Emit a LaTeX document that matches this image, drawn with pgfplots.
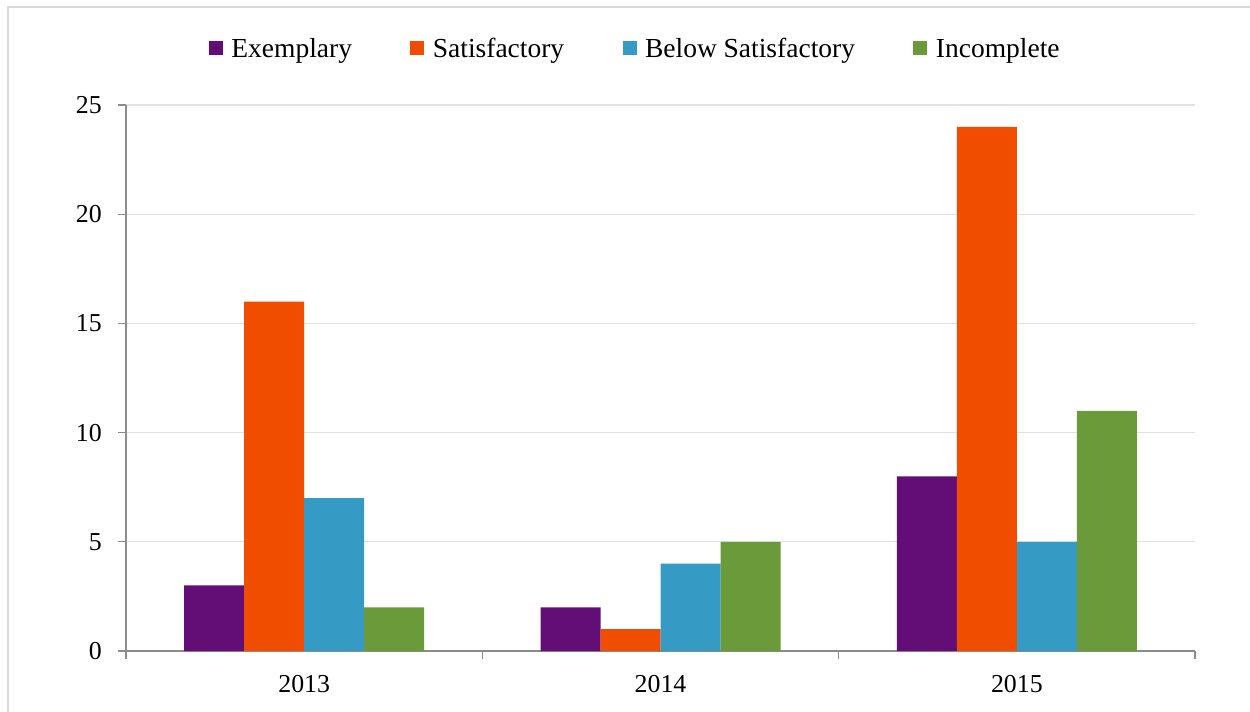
\documentclass[border=0pt]{standalone}
\usepackage{fontspec}
\setmainfont{Liberation Serif}
\usepackage{pgfplots}
\pgfplotsset{compat=1.18}
\definecolor{cExem}{HTML}{630E77}
\definecolor{cSat}{HTML}{F04D00}
\definecolor{cBelow}{HTML}{369BC4}
\definecolor{cInc}{HTML}{6A9A3A}
\definecolor{axgray}{HTML}{8C8C8C}
\definecolor{gridgray}{HTML}{E2E2E2}
\definecolor{framegray}{HTML}{D9D9D9}
\begin{document}
\begin{tikzpicture}
\useasboundingbox (0,0) rectangle (750pt,426.6pt);
\begin{axis}[
  at={(75.6pt,36pt)}, anchor=south west,
  scale only axis, width=641.4pt, height=327.6pt,
  ybar=0pt, bar width=36pt,
  xmin=-0.5, xmax=2.5, ymin=0, ymax=25,
  % category boundaries carry the ticks, category centres carry the labels
  xtick={-0.5,0.5,1.5,2.5}, xticklabels={},
  extra x ticks={0,1,2}, extra x tick labels={2013,2014,2015},
  extra x tick style={major tick length=0pt,
    xticklabel style={yshift=-11pt}},
  ytick={0,5,...,25},
  axis x line*=bottom, axis y line*=left,
  axis line style={axgray, line width=0.8pt, -},
  tick align=outside,
  tick style={axgray, line width=0.8pt},
  major tick length=5pt,
  ymajorgrids, grid style={gridgray, line width=0.8pt},
  /pgf/number format/assume math mode=true,
  tick label style={font=\fontsize{15.5}{18}\selectfont},
  yticklabel style={xshift=-6pt},
  legend columns=4,
  legend style={draw=none, at={(0.477,1.1026)}, anchor=center,
    font=\fontsize{16.5}{19}\selectfont,
    /tikz/every even column/.append style={column sep=33pt}},
  legend image code/.code={\fill[#1] (0pt,-3.6pt) rectangle (8.4pt,4.8pt);
    \path (11.5pt,0pt);},
]
\addplot[fill=cExem, draw=none] coordinates {(0,3) (1,2) (2,8)};
\addlegendentry{Exemplary}
\addplot[fill=cSat, draw=none] coordinates {(0,16) (1,1) (2,24)};
\addlegendentry{Satisfactory}
\addplot[fill=cBelow, draw=none] coordinates {(0,7) (1,4) (2,5)};
\addlegendentry{Below Satisfactory}
\addplot[fill=cInc, draw=none] coordinates {(0,2) (1,5) (2,11)};
\addlegendentry{Incomplete}
\end{axis}
\draw[framegray, line width=1.5pt] (4.8pt,-5pt) -- (4.8pt,422.4pt) -- (760pt,422.4pt);
\end{tikzpicture}
\end{document}
